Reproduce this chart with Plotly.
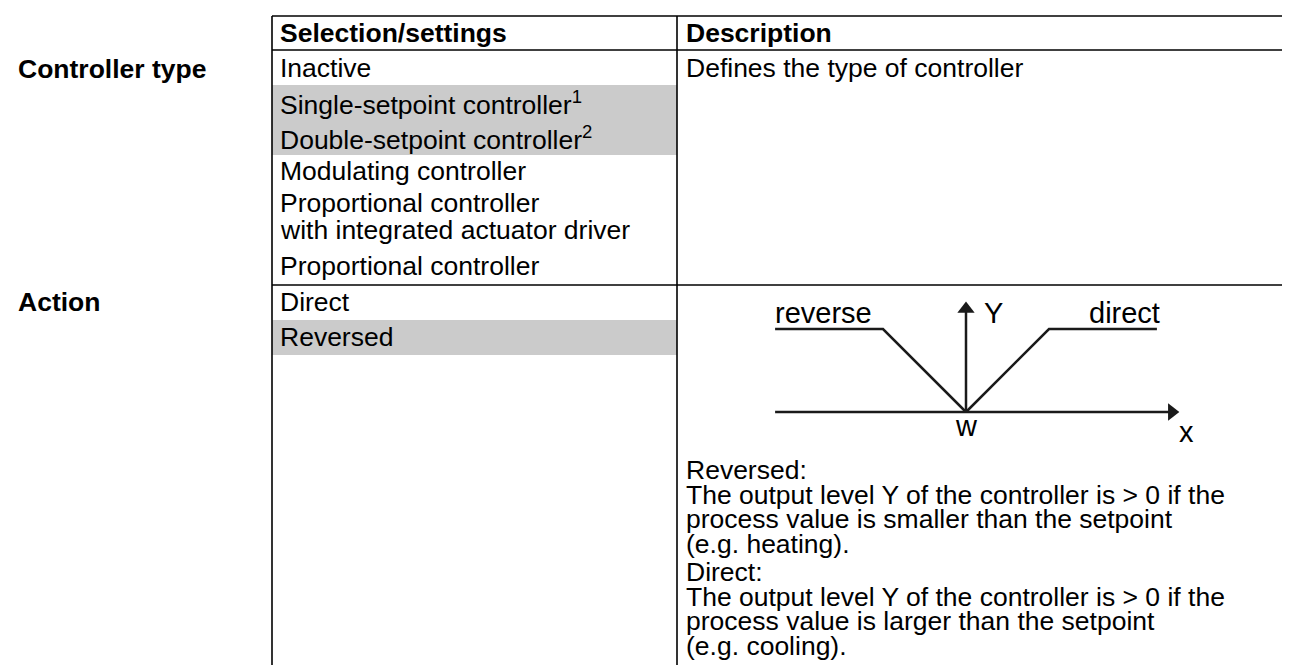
import plotly.graph_objects as go

# ---------------- data (table text content) ----------------
header_selection = "Selection/settings"
header_description = "Description"
param_labels = ["Controller type", "Action"]

controller_options = [
    "Inactive",
    "Single-setpoint controller<sup>1</sup>",
    "Double-setpoint controller<sup>2</sup>",
    "Modulating controller",
    "Proportional controller",
    "with integrated actuator driver",
    "Proportional controller",
]
controller_highlight = [False, True, True, False, False, False, False]
controller_description = ["Defines the type of controller"]

action_options = ["Direct", "Reversed"]
action_highlight = [False, True]
action_description = [
    "Reversed:",
    "The output level Y of the controller is > 0 if the",
    "process value is smaller than the setpoint",
    "(e.g. heating).",
    "Direct:",
    "The output level Y of the controller is > 0 if the",
    "process value is larger than the setpoint",
    "(e.g. cooling).",
]

# characteristic diagram (setpoint w at x = 0, output level Y)
reverse_x = [-2.3, -1.0, 0.0]
reverse_y = [1.0, 1.0, 0.0]
direct_x = [0.0, 1.0, 2.3]
direct_y = [0.0, 1.0, 1.0]
x_axis_x = [-2.3, 2.48]
x_axis_y = [0.0, 0.0]
y_axis_x = [0.0, 0.0]
y_axis_y = [0.0, 1.24]
diagram_labels = ["reverse", "Y", "direct", "w", "x"]
diagram_label_x = [-2.33, 0.19, 2.36, 0.0, 2.66]
diagram_label_y = [1.19, 1.19, 1.19, -0.17, -0.24]
diagram_label_anchor = ["left", "left", "right", "center", "center"]

# ---------------- layout (pixel geometry) ----------------
W, H = 1290, 665
FONT = "Liberation Sans, Arial, Helvetica, sans-serif"
FS = 26.5
INK = "#000000"
GRAY = "#cbcbcb"
LW = 1.6

x_left, x_mid, x_right = 264, 669, 1281
y_top, y_head, y_action = 8, 42, 277
txt1_x, txt2_x, label_x = 270, 676, 8
head_y = 25
controller_rows_y = [60, 95, 130, 163, 195, 222, 258]
ctrl_bounds = [(42, 77), (77, 112), (112, 147), (147, 180), (180, 237), (180, 237), (237, 277)]
action_rows_y = [294, 329]
action_bands = [(277, 312), (312, 347)]
desc_lines_y = [462, 487, 511, 536, 564, 589, 613, 638]
label_rows_y = [61, 294]

fig = go.Figure()

shapes = []
for hl, (a, b) in zip(controller_highlight, ctrl_bounds):
    if hl:
        shapes.append(dict(type="rect", xref="x", yref="y", x0=x_left, x1=x_mid, y0=a, y1=b,
                           fillcolor=GRAY, line=dict(width=0), layer="below"))
for hl, (a, b) in zip(action_highlight, action_bands):
    if hl:
        shapes.append(dict(type="rect", xref="x", yref="y", x0=x_left, x1=x_mid, y0=a, y1=b,
                           fillcolor=GRAY, line=dict(width=0), layer="below"))

for yy in (y_top, y_head, y_action):
    shapes.append(dict(type="line", xref="x", yref="y", x0=x_left, x1=x_right, y0=yy, y1=yy,
                       line=dict(color=INK, width=LW)))
for xx in (x_left, x_mid, x_right):
    shapes.append(dict(type="line", xref="x", yref="y", x0=xx, x1=xx, y0=y_top, y1=H + 5,
                       line=dict(color=INK, width=LW)))

annotations = []


def txt(x, y, s, bold=False, size=FS, xref="x", yref="y", anchor="left"):
    annotations.append(dict(
        x=x, y=y, xref=xref, yref=yref, text=("<b>%s</b>" % s) if bold else s,
        showarrow=False, xanchor=anchor, yanchor="middle",
        font=dict(family=FONT, size=size, color=INK)))


txt(txt1_x, head_y, header_selection, bold=True)
txt(txt2_x, head_y, header_description, bold=True)
for lab, yy in zip(param_labels, label_rows_y):
    txt(label_x, yy, lab, bold=True)
for s, yy in zip(controller_options, controller_rows_y):
    txt(txt1_x, yy, s)
txt(txt2_x, controller_rows_y[0], controller_description[0])
for s, yy in zip(action_options, action_rows_y):
    txt(txt1_x, yy, s)
for s, yy in zip(action_description, desc_lines_y):
    txt(txt2_x, yy, s)

# ---------------- diagram ----------------
DCOL = "#1a1a1a"
line_style = dict(color=DCOL, width=2.5)
for xs, ys in ((reverse_x, reverse_y), (direct_x, direct_y), (x_axis_x, x_axis_y), (y_axis_x, y_axis_y)):
    fig.add_trace(go.Scatter(x=xs, y=ys, mode="lines", line=line_style, xaxis="x2", yaxis="y2",
                             hoverinfo="skip", showlegend=False))
fig.add_trace(go.Scatter(x=[x_axis_x[-1]], y=[0.0], mode="markers", xaxis="x2", yaxis="y2",
                         marker=dict(symbol="triangle-right", size=15, color=DCOL, line=dict(width=0)),
                         hoverinfo="skip", showlegend=False))
fig.add_trace(go.Scatter(x=[0.0], y=[y_axis_y[-1]], mode="markers", xaxis="x2", yaxis="y2",
                         marker=dict(symbol="triangle-up", size=15, color=DCOL, line=dict(width=0)),
                         hoverinfo="skip", showlegend=False))
for s, xx, yy, an in zip(diagram_labels, diagram_label_x, diagram_label_y, diagram_label_anchor):
    txt(xx, yy, s, size=29, xref="x2", yref="y2", anchor=an)

# diagram box in pixels -> axis domains (83 px per unit, origin at 958,404)
px_unit, ox, oy = 83.0, 958.0, 404.0
bx0, bx1, by0, by1 = 740.0, 1210.0, 280.0, 470.0

fig.update_layout(
    width=W, height=H,
    margin=dict(l=0, r=0, t=0, b=0),
    paper_bgcolor="white", plot_bgcolor="white",
    showlegend=False,
    xaxis=dict(range=[0, W], visible=False, domain=[0, 1], fixedrange=True),
    yaxis=dict(range=[H, 0], visible=False, domain=[0, 1], fixedrange=True),
    xaxis2=dict(range=[(bx0 - ox) / px_unit, (bx1 - ox) / px_unit], visible=False,
                domain=[bx0 / W, bx1 / W], anchor="y2", fixedrange=True),
    yaxis2=dict(range=[(oy - by1) / px_unit, (oy - by0) / px_unit], visible=False,
                domain=[(H - by1) / H, (H - by0) / H], anchor="x2", fixedrange=True),
    shapes=shapes,
    annotations=annotations,
)

fig.write_html("out.html", config={"displayModeBar": False})
